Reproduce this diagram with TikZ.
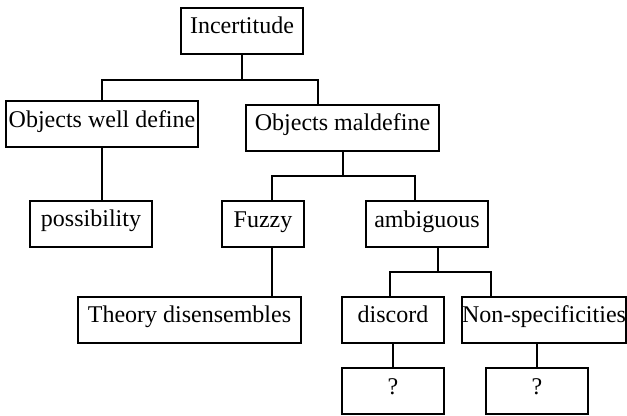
\documentclass[tikz,border=0pt]{standalone}
\usepackage{fontspec}
\setmainfont{Liberation Serif}
\usetikzlibrary{positioning, calc}

\begin{document}
\begin{tikzpicture}[x=0.5pt, y=-0.5pt, line width=1pt,
        box/.style={draw, rectangle, inner xsep=0pt, inner ysep=0pt, text height=13pt, text depth=10pt, font=\fontsize{12}{14}\selectfont}]

        \useasboundingbox (0,0) rectangle (627,416);

        \node[box, minimum width=61pt] (inc) at (242,31) {Incertitude};
        \node[box, minimum width=96pt] (wd) at (102,124.5) {Objects well define};
        \node[box, minimum width=96.5pt] (mal) at (342.5,128) {Objects maldefine};
        \node[box, minimum width=61pt] (poss) at (91,224) {possibility};
        \node[box, minimum width=41pt] (fuz) at (263,224.5) {Fuzzy};
        \node[box, minimum width=61pt] (amb) at (427,224.5) {ambiguous};
        \node[box, minimum width=111.5pt] (theo) at (189.5,320) {Theory disensembles};
        \node[box, minimum width=51pt] (dis) at (393,320) {discord};
        \node[box, minimum width=82pt] (nsp) at (544,320) {Non-specificities};
        \node[box, minimum width=51pt] (q1) at (393,391.5) {?};
        \node[box, minimum width=51pt] (q2) at (537,391.5) {?};

        % branch points
        \coordinate (j1) at (318,80);
        \coordinate (j2l) at (272,176);
        \coordinate (j2r) at (415,176);
        \coordinate (j3) at (438,272);
        \coordinate (j3l) at (390,272);
        \coordinate (j3r) at (491,272);

        \draw (inc.south) -- (inc.south |- j1);
        \draw (wd.north) |- (j1) -- (j1 |- mal.north);
        \draw (wd.south) -- (wd.south |- poss.north);

        \draw (mal.south) -- (mal.south |- j2l);
        \draw (j2l |- fuz.north) |- (j2r) -- (j2r |- amb.north);
        \draw (j2l |- fuz.south) -- (j2l |- theo.north);

        \draw (amb.south -| j3) -- (j3);
        \draw (j3l |- dis.north) |- (j3r) -- (j3r |- nsp.north);
        \draw (dis.south) -- (q1.north);
        \draw (q2.north |- nsp.south) -- (q2.north);
    \end{tikzpicture}
\end{document}
